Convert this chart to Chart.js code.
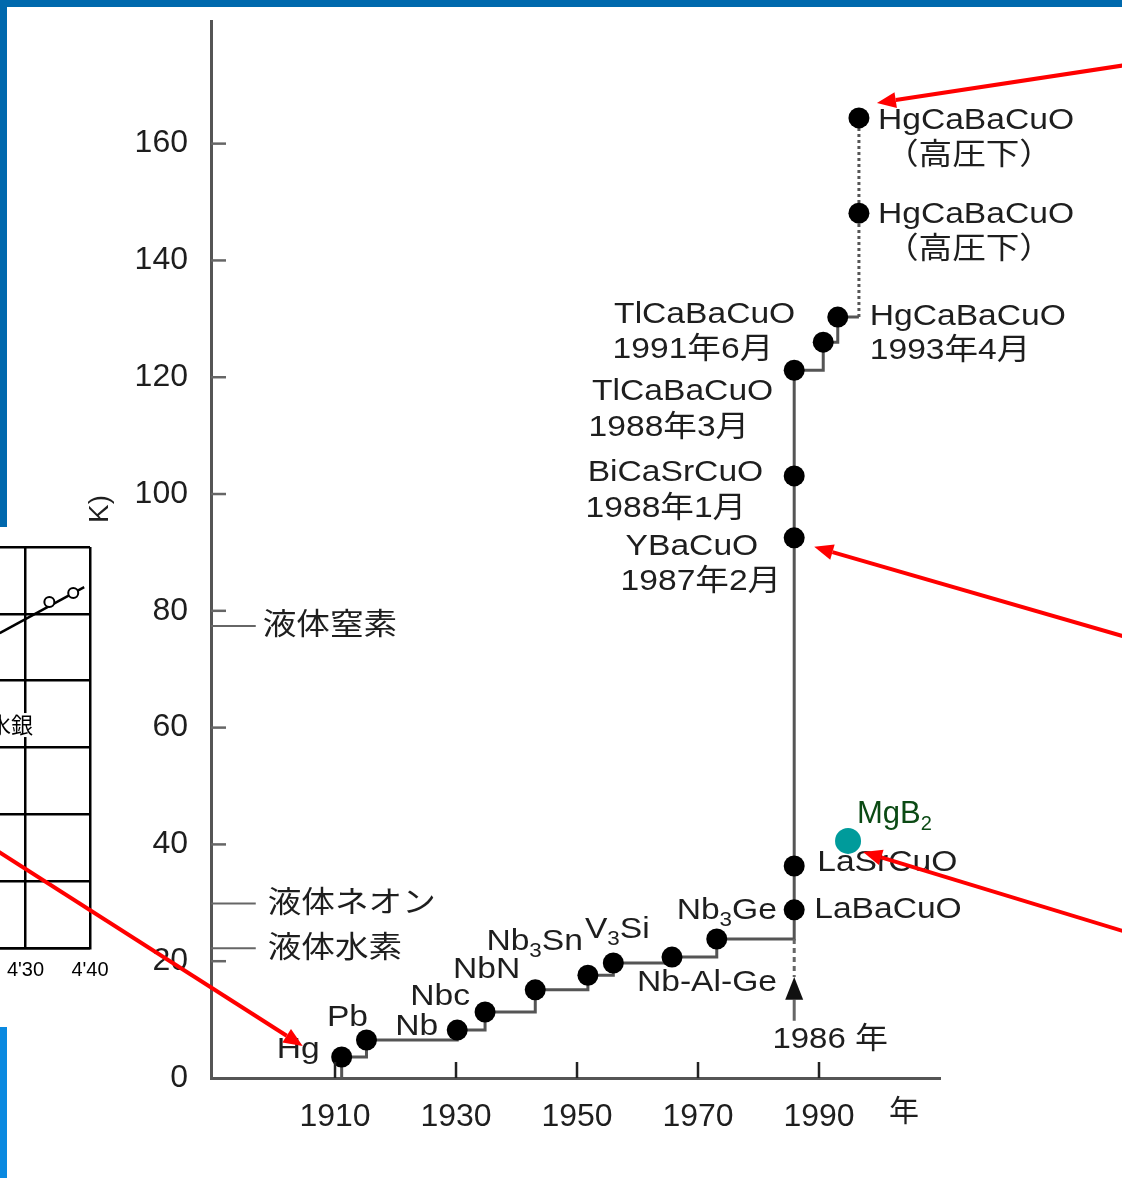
<!DOCTYPE html>
<html>
<head>
<meta charset="utf-8">
<script src="https://cdn.jsdelivr.net/npm/chart.js@4.4.0/dist/chart.umd.min.js"></script>
<style>
  html, body { margin: 0; padding: 0; background: #fff; overflow: hidden; }
  #page { position: relative; width: 1122px; height: 1178px; overflow: hidden; background: #fff; }
  .bar-top { position: absolute; left: 0; top: 0; width: 1122px; height: 7px; background: #0069ad; }
  .bar-left { position: absolute; left: 0; top: 0; width: 7px; height: 1178px;
              background: linear-gradient(to bottom, #0068ad 0, #0068ad 527px, #0a89e0 1027px); }
  #insetChart { position: absolute; left: -46px; top: 527px; background: #fff; }
  #mainChart { position: absolute; left: 0; top: 0; }
</style>
</head>
<body>
<div id="page">
  <div class="bar-left"></div>
  <div class="bar-top"></div>
  <canvas id="insetChart" width="171" height="500"></canvas>
  <canvas id="mainChart" width="1122" height="1178"></canvas>
</div>
<script>
// === DATA ===
// record Tc along the main curve (year, K)
const recordYears = [1911.1, 1915.2, 1930.2, 1934.8, 1943.1, 1951.8, 1956.0, 1965.7, 1973.1,
                     1985.9, 1985.9, 1985.9, 1985.9, 1985.9, 1990.7, 1993.1];
const recordTc    = [3.6, 6.5, 8.2, 11.3, 15.1, 17.6, 19.7, 20.7, 23.8,
                     28.8, 36.3, 92.5, 103.1, 121.2, 126.0, 130.3];
const recordNames = [['Hg'], ['Pb'], ['Nb'], ['Nbc'], ['NbN'], ['Nb_3Sn'], ['V_3Si'], ['Nb-Al-Ge'], ['Nb_3Ge'],
                     ['LaBaCuO'], ['LaSrCuO'], ['YBaCuO', '1987年2月'], ['BiCaSrCuO', '1988年1月'],
                     ['TlCaBaCuO', '1988年3月'], ['TlCaBaCuO', '1991年6月'], ['HgCaBaCuO', '1993年4月']];

// HgCaBaCuO under high pressure
const pressureYear = 1996.6;
const pressureTc = [148.1, 164.4];
const pressureNames = [['HgCaBaCuO', '（高圧下）'], ['HgCaBaCuO', '（高圧下）']];

// MgB2
const mgb2Year = 1994.8;
const mgb2Tc = 40.6;

// coolants
const coolantNames = ['液体窒素', '液体ネオン', '液体水素'];
const coolantTemps = [77.4, 29.9, 22.2];
const coolantLineEnd = 1896.9;

// 1986 breakthrough marker
const breakYear = 1985.9;
const breakLabel = '1986 年';
const breakArrow = { tip: 17.3, base: 13.4, tail: 9.8 };

// axes
const xRange = [1889.5, 2010];
const yRange = [0, 181];
const xTickYears = [1910, 1930, 1950, 1970, 1990];
const yTickValues = [0, 20, 40, 60, 80, 100, 120, 140, 160];

// inset: resistance of mercury
const insetTempTicks = [4.2, 4.3, 4.4];
const insetResTicks = [0, 0.025, 0.05, 0.075, 0.1, 0.125, 0.15];
const insetLineTemps = [4.260, 4.391];
const insetLineRes = [0.1178, 0.1350];
const insetPointTemps = [4.337, 4.374];
const insetPointRes = [0.1294, 0.1328];

// === STYLE ===
const FONT = '"Liberation Sans", "Noto Sans CJK JP", sans-serif';
const TEXT_COLOR = '#1e1e1e';
Chart.defaults.font.family = FONT;

// label placement relative to each dot (px)
const recordLabelLayout = [
    { align: 'right',  off: [[-22, -7]] },
    { align: 'center', off: [[-19, -22]] },
    { align: 'right',  off: [[-19, -3]] },
    { align: 'right',  off: [[-15, -15]] },
    { align: 'right',  off: [[-15, -20]] },
    { align: 'right',  off: [[-5, -33]] },
    { align: 'center', off: [[4, -33]] },
    { align: 'center', off: [[35, 26]] },
    { align: 'center', off: [[10, -28]] },
    { align: 'left',   off: [[20, 0]] },
    { align: 'left',   off: [[23, -3]] },
    { align: 'right',  off: [[-36, 9], [-13, 44]] },
    { align: 'right',  off: [[-31, -3], [-48, 33]] },
    { align: 'right',  off: [[-21, 22], [-45, 58]] },
    { align: 'right',  off: [[-28, -27], [-50, 8]] },
    { align: 'left',   off: [[32, 0], [32, 34]] }
];
const pressureLabelLayout = [
    { align: 'left', off: [[19, 2], [26, 37]] },
    { align: 'left', off: [[19, 3], [26, 38]] }
];

// text with "_x" subscripts, optionally stretched horizontally
function drawRich(ctx, text, x, y, align, size, sx, color) {
    const parts = [];
    for (let i = 0; i < text.length; i++) {
        if (text[i] === '_') {
            parts.push({ t: text[i + 1], sub: true });
            i++;
        } else if (parts.length && !parts[parts.length - 1].sub) {
            parts[parts.length - 1].t += text[i];
        } else {
            parts.push({ t: text[i], sub: false });
        }
    }
    const fontOf = p => (p.sub ? Math.round(size * 0.66) : size) + 'px ' + FONT;
    let w = 0;
    parts.forEach(p => { ctx.font = fontOf(p); p.w = ctx.measureText(p.t).width; w += p.w; });
    let x0 = x;
    if (align === 'right') x0 = x - w * sx;
    else if (align === 'center') x0 = x - w * sx / 2;
    ctx.save();
    ctx.translate(x0, y);
    ctx.scale(sx, 1);
    ctx.fillStyle = color;
    ctx.textAlign = 'left';
    ctx.textBaseline = 'middle';
    let cx = 0;
    parts.forEach(p => {
        ctx.font = fontOf(p);
        ctx.fillText(p.t, cx, p.sub ? size * 0.32 : 0);
        cx += p.w;
    });
    ctx.restore();
}

function drawArrow(ctx, x1, y1, x2, y2) {
    const ang = Math.atan2(y2 - y1, x2 - x1);
    const hl = 19, hw = 8;
    const bx = x2 - hl * Math.cos(ang), by = y2 - hl * Math.sin(ang);
    ctx.beginPath();
    ctx.moveTo(x1, y1);
    ctx.lineTo(bx, by);
    ctx.stroke();
    ctx.beginPath();
    ctx.moveTo(x2, y2);
    ctx.lineTo(bx + hw * Math.sin(ang), by - hw * Math.cos(ang));
    ctx.lineTo(bx - hw * Math.sin(ang), by + hw * Math.cos(ang));
    ctx.closePath();
    ctx.fill();
}

// === MAIN CHART ===
const recordLine = recordYears.map((yr, i) => ({ x: yr, y: recordTc[i] }));
recordLine.unshift({ x: recordYears[0], y: 0 });
recordLine.push({ x: pressureYear, y: recordTc[recordTc.length - 1] });

const pressureLine = [{ x: pressureYear, y: recordTc[recordTc.length - 1] }]
    .concat(pressureTc.map(t => ({ x: pressureYear, y: t })));

const coolantSets = coolantTemps.map(t => ({
    data: [{ x: xRange[0], y: t }, { x: coolantLineEnd, y: t }],
    showLine: true,
    borderColor: '#666',
    borderWidth: 2,
    pointRadius: 0
}));

const annotations = {
    id: 'annotations',
    afterDraw(chart) {
        const { ctx, chartArea, scales: { x, y } } = chart;
        const px = v => x.getPixelForValue(v);
        const py = v => y.getPixelForValue(v);
        ctx.save();

        // tick marks pointing inwards
        ctx.lineWidth = 2.5;
        ctx.strokeStyle = '#666';
        yTickValues.forEach(v => {
            if (v === 0) return;
            ctx.beginPath();
            ctx.moveTo(chartArea.left, py(v));
            ctx.lineTo(chartArea.left + 15, py(v));
            ctx.stroke();
        });
        ctx.strokeStyle = '#222';
        xTickYears.forEach(v => {
            ctx.beginPath();
            ctx.moveTo(px(v), chartArea.bottom);
            ctx.lineTo(px(v), chartArea.bottom - 16);
            ctx.stroke();
        });

        // 1986 marker
        const bx = px(breakYear);
        ctx.strokeStyle = '#666';
        ctx.lineWidth = 3;
        ctx.setLineDash([5, 4]);
        ctx.beginPath();
        ctx.moveTo(bx, py(recordTc[8]));
        ctx.lineTo(bx, py(breakArrow.tip));
        ctx.stroke();
        ctx.setLineDash([]);
        ctx.beginPath();
        ctx.moveTo(bx, py(breakArrow.base));
        ctx.lineTo(bx, py(breakArrow.tail));
        ctx.stroke();
        ctx.fillStyle = '#111';
        ctx.beginPath();
        ctx.moveTo(bx, py(breakArrow.tip));
        ctx.lineTo(bx - 9, py(breakArrow.base));
        ctx.lineTo(bx + 9, py(breakArrow.base));
        ctx.closePath();
        ctx.fill();
        drawRich(ctx, breakLabel, bx + 36, py(0) - 38, 'center', 30, 1.1, TEXT_COLOR);

        // point labels
        recordNames.forEach((lines, i) => {
            const lay = recordLabelLayout[i];
            lines.forEach((t, j) => {
                drawRich(ctx, t, px(recordYears[i]) + lay.off[j][0], py(recordTc[i]) + lay.off[j][1],
                         lay.align, 30, 1.12, TEXT_COLOR);
            });
        });
        pressureNames.forEach((lines, i) => {
            const lay = pressureLabelLayout[i];
            lines.forEach((t, j) => {
                drawRich(ctx, t, px(pressureYear) + lay.off[j][0], py(pressureTc[i]) + lay.off[j][1],
                         lay.align, 30, 1.12, TEXT_COLOR);
            });
        });
        drawRich(ctx, 'MgB_2', px(mgb2Year) + 9, py(mgb2Tc) - 26, 'left', 31, 1, '#0b4a14');

        // coolant labels
        coolantNames.forEach((t, i) => {
            drawRich(ctx, t, px(coolantLineEnd) + (i === 0 ? 7 : 12), py(coolantTemps[i]), 'left', 30, 1.12, TEXT_COLOR);
        });

        // axis unit texts
        drawRich(ctx, '年', 904, py(0) + 35, 'center', 30, 1, TEXT_COLOR);
        ctx.save();
        ctx.translate(100, 509);
        ctx.rotate(-Math.PI / 2);
        ctx.font = '28px ' + FONT;
        ctx.fillStyle = TEXT_COLOR;
        ctx.textAlign = 'center';
        ctx.textBaseline = 'middle';
        ctx.fillText('K)', 0, 0);
        ctx.restore();

        // red pointer arrows
        ctx.strokeStyle = '#ff0000';
        ctx.fillStyle = '#ff0000';
        ctx.lineWidth = 4;
        const last = pressureTc.length - 1;
        drawArrow(ctx, 1126, 65, px(pressureYear) + 18, py(pressureTc[last]) - 15);
        drawArrow(ctx, 1126, 637, px(recordYears[11]) + 20, py(recordTc[11]) + 9);
        drawArrow(ctx, 1126, 932, px(mgb2Year) + 15, py(mgb2Tc) + 11);
        drawArrow(ctx, -4, 850, px(recordYears[0]) - 39, py(recordTc[0]) - 11);
        ctx.restore();
    }
};

new Chart(document.getElementById('mainChart'), {
    type: 'scatter',
    data: {
        datasets: [
            {
                data: recordLine,
                showLine: true,
                stepped: true,
                borderColor: '#555',
                borderWidth: 3,
                pointRadius: c => (c.dataIndex === 0 || c.dataIndex === recordLine.length - 1) ? 0 : 10.5,
                pointBackgroundColor: '#000',
                pointBorderWidth: 0
            },
            {
                data: pressureLine,
                showLine: true,
                borderColor: '#555',
                borderWidth: 3,
                borderDash: [3, 3],
                pointRadius: c => c.dataIndex === 0 ? 0 : 10.5,
                pointBackgroundColor: '#000',
                pointBorderWidth: 0
            },
            {
                data: [{ x: mgb2Year, y: mgb2Tc }],
                pointRadius: 13,
                pointBackgroundColor: '#009b9b',
                pointBorderWidth: 0
            },
            ...coolantSets
        ]
    },
    options: {
        responsive: false,
        animation: false,
        devicePixelRatio: 1,
        events: [],
        layout: { padding: { left: 0, right: 182, top: 21, bottom: 0 } },
        plugins: { legend: { display: false }, tooltip: { enabled: false } },
        scales: {
            x: {
                type: 'linear',
                min: xRange[0],
                max: xRange[1],
                grid: { display: false },
                border: { display: true, color: '#555', width: 3 },
                ticks: { font: { size: 32 }, color: TEXT_COLOR, padding: 12, callback: v => String(v) },
                afterBuildTicks: s => { s.ticks = xTickYears.map(v => ({ value: v })); },
                afterFit: s => { s.height = 100; s.paddingLeft = 0; s.paddingRight = 0; }
            },
            y: {
                min: yRange[0],
                max: yRange[1],
                grid: { display: false },
                border: { display: true, color: '#555', width: 3 },
                ticks: { font: { size: 32 }, color: TEXT_COLOR, padding: 15, callback: v => String(v) },
                afterBuildTicks: s => { s.ticks = yTickValues.map(v => ({ value: v })); },
                afterFit: s => { s.width = 211; s.paddingTop = 0; s.paddingBottom = 0; }
            }
        }
    },
    plugins: [annotations]
});

// === INSET CHART ===
const insetLabel = {
    id: 'insetLabel',
    afterDraw(chart) {
        const { ctx, scales: { x, y } } = chart;
        const lx = x.getPixelForValue(4.3118), ly = y.getPixelForValue(0.0834);
        ctx.save();
        ctx.font = '22px "Noto Sans CJK JP", sans-serif';
        const w = ctx.measureText('水銀').width;
        ctx.fillStyle = '#fff';
        ctx.fillRect(lx - w - 1, ly - 12, w + 2, 24);
        ctx.fillStyle = '#000';
        ctx.textAlign = 'right';
        ctx.textBaseline = 'middle';
        ctx.fillText('水銀', lx, ly);
        ctx.restore();
    }
};

new Chart(document.getElementById('insetChart'), {
    type: 'scatter',
    data: {
        datasets: [
            {
                data: insetPointTemps.map((t, i) => ({ x: t, y: insetPointRes[i] })),
                pointRadius: 5,
                pointBackgroundColor: '#fff',
                pointBorderColor: '#000',
                pointBorderWidth: 2
            },
            {
                data: insetLineTemps.map((t, i) => ({ x: t, y: insetLineRes[i] })),
                showLine: true,
                borderColor: '#000',
                borderWidth: 2.5,
                pointRadius: 0
            }
        ]
    },
    options: {
        responsive: false,
        animation: false,
        devicePixelRatio: 1,
        events: [],
        layout: { padding: { left: 0, right: 35, top: 20, bottom: 0 } },
        plugins: { legend: { display: false }, tooltip: { enabled: false } },
        scales: {
            x: {
                type: 'linear',
                min: insetTempTicks[0],
                max: insetTempTicks[insetTempTicks.length - 1],
                grid: { color: '#000', lineWidth: 2.5, drawTicks: false },
                border: { display: true, color: '#000', width: 2.5 },
                ticks: { font: { size: 20 }, color: '#000', padding: 10,
                         callback: v => "4'" + Math.round((v - 4) * 100) },
                afterBuildTicks: s => { s.ticks = insetTempTicks.map(v => ({ value: v })); },
                afterFit: s => { s.height = 79; s.paddingLeft = 0; s.paddingRight = 0; }
            },
            y: {
                min: 0,
                max: 0.15,
                grid: { color: '#000', lineWidth: 2.5, drawTicks: false },
                border: { display: false },
                ticks: { display: false },
                afterBuildTicks: s => { s.ticks = insetResTicks.map(v => ({ value: v })); },
                afterFit: s => { s.width = 0; s.paddingTop = 0; s.paddingBottom = 0; }
            }
        }
    },
    plugins: [insetLabel]
});
</script>
</body>
</html>
